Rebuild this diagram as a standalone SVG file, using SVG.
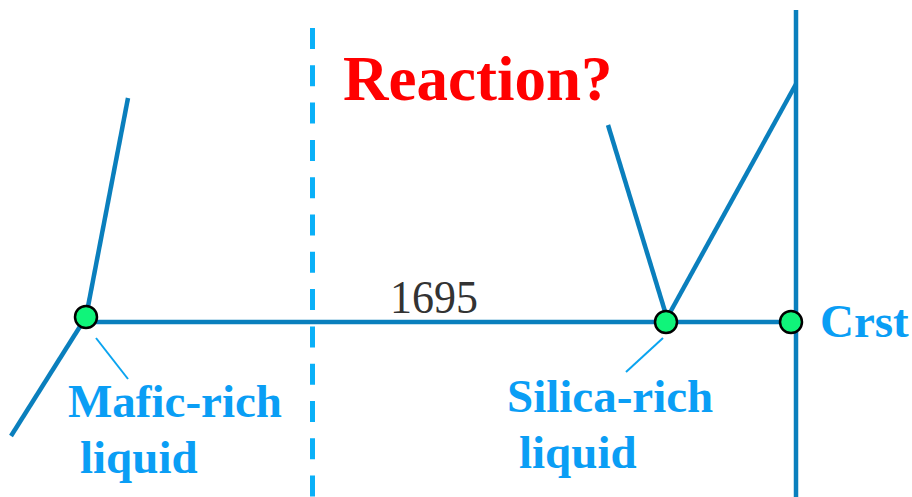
<svg xmlns="http://www.w3.org/2000/svg" width="912" height="497" viewBox="0 0 912 497">
  <style>
    .ln { stroke: #0a7fbd; stroke-width: 4.5; fill: none; stroke-linecap: butt; }
    .dash { stroke: #0ab0f8; stroke-width: 5; fill: none; stroke-dasharray: 21 16.3; }
    .lead { stroke: #0aa4f0; stroke-width: 2; fill: none; }
    .pt { fill: #10f47a; stroke: #000; stroke-width: 2.5; }
    .lbl { font-family: "Liberation Serif", "Times New Roman", serif; font-weight: bold; font-size: 47px; fill: #0a9ef5; }
    .title { font-family: "Liberation Serif", "Times New Roman", serif; font-weight: bold; font-size: 63px; fill: #ff0000; }
    .num { font-family: "Liberation Serif", "Times New Roman", serif; font-size: 46px; fill: #333333; }
  </style>
  <rect width="912" height="497" fill="#ffffff"/>
  <g id="connectors">
    <line class="dash" x1="312.5" y1="28" x2="312.5" y2="497"/>
    <line class="ln" x1="86" y1="322" x2="796" y2="322"/>
    <line class="ln" x1="796" y1="10" x2="796" y2="497"/>
    <line class="ln" x1="128" y1="98" x2="86" y2="317"/>
    <line class="ln" x1="86" y1="317" x2="11" y2="436"/>
    <line class="ln" x1="608" y1="125" x2="667" y2="318"/>
    <line class="ln" x1="667" y1="318" x2="796" y2="84"/>
    <line class="lead" x1="96" y1="338" x2="128" y2="379"/>
    <line class="lead" x1="663" y1="338" x2="626" y2="372"/>
  </g>
  <g id="title">
    <text class="title" x="343" y="100">Reaction?</text>
  </g>
  <g id="temp">
    <text class="num" x="390" y="313" textLength="88" lengthAdjust="spacingAndGlyphs">1695</text>
  </g>
  <g id="mafic">
    <circle class="pt" cx="86" cy="317" r="11"/>
    <text class="lbl" x="68" y="417">Mafic-rich</text>
    <text class="lbl" x="80" y="473">liquid</text>
  </g>
  <g id="silica">
    <circle class="pt" cx="666" cy="322" r="11"/>
    <text class="lbl" x="507" y="412">Silica-rich</text>
    <text class="lbl" x="519" y="468">liquid</text>
  </g>
  <g id="crst">
    <circle class="pt" cx="791" cy="322" r="11"/>
    <text class="lbl" x="820" y="337">Crst</text>
  </g>
</svg>
